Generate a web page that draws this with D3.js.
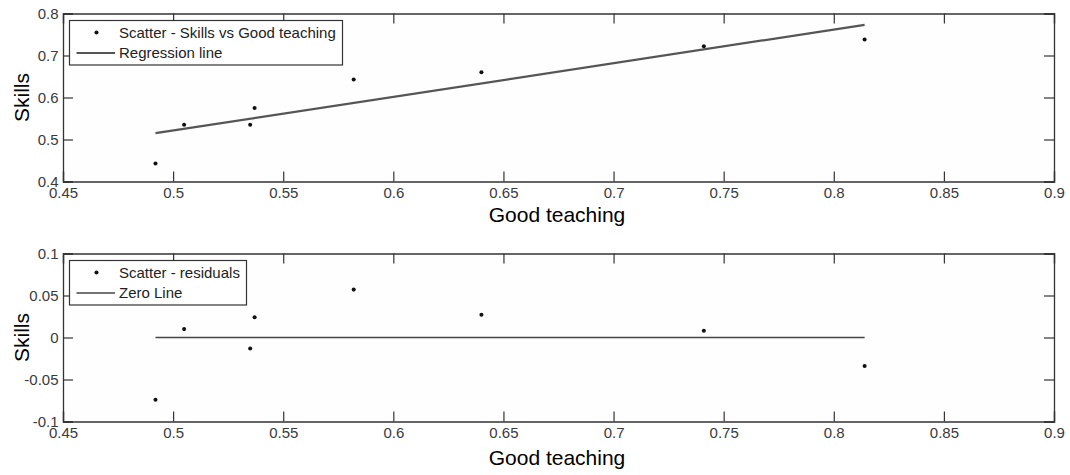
<!DOCTYPE html>
<html><head><meta charset="utf-8">
<script src="https://cdn.jsdelivr.net/npm/d3@7"></script>
<style>body{margin:0;background:#fff}svg{display:block;font-family:"Liberation Sans",Arial,sans-serif}</style>
</head><body><svg id="c" width="1070" height="475"></svg>
<script>
const goodTeaching = [0.492, 0.505, 0.535, 0.537, 0.582, 0.640, 0.741, 0.814];
const skills = [0.443, 0.535, 0.535, 0.575, 0.643, 0.660, 0.722, 0.738];
const residuals = [-0.074, 0.010, -0.013, 0.024, 0.057, 0.027, 0.008, -0.034];
const regLineX = [0.492, 0.814];
const regLineY = [0.515, 0.773];
const zeroLineX = [0.492, 0.814];
const zeroLineY = [0, 0];
const xTicks = [0.45, 0.5, 0.55, 0.6, 0.65, 0.7, 0.75, 0.8, 0.85, 0.9];
const yTicksTop = [0.4, 0.5, 0.6, 0.7, 0.8];
const yTicksBottom = [-0.1, -0.05, 0, 0.05, 0.1];
const xLabel = "Good teaching";
const yLabel = "Skills";
const legendTop = ["Scatter - Skills vs Good teaching", "Regression line"];
const legendBottom = ["Scatter - residuals", "Zero Line"];

const svg = d3.select("#c");
const L = 63, R = 1054;
function fmt(v){ return String(+v.toFixed(2)); }

function panel(top, bottom, yDom, yTicks, ys, lx, ly, legend, legW, lineW, lineCol, labOff){
  const x = d3.scaleLinear().domain([0.45, 0.9]).range([L, R]);
  const y = d3.scaleLinear().domain(yDom).range([bottom, top]);
  const g = svg.append("g");
  g.append("rect").attr("x", L).attr("y", top).attr("width", R-L).attr("height", bottom-top)
    .attr("fill", "#fefefe").attr("stroke", "none");
  const tk = 10;
  const axB = g.append("g").attr("transform", `translate(0,${bottom})`)
    .call(d3.axisBottom(x).tickValues(xTicks).tickSize(-tk).tickPadding(8.5).tickFormat(fmt));
  const axT = g.append("g").attr("transform", `translate(0,${top})`)
    .call(d3.axisTop(x).tickValues(xTicks).tickSize(-tk).tickFormat(""));
  const axL = g.append("g").attr("transform", `translate(${L},0)`)
    .call(d3.axisLeft(y).tickValues(yTicks).tickSize(-tk).tickPadding(4.5).tickFormat(fmt));
  const axR = g.append("g").attr("transform", `translate(${R},0)`)
    .call(d3.axisRight(y).tickValues(yTicks).tickSize(-tk).tickFormat(""));
  [axB, axT, axL, axR].forEach(a => {
    a.select(".domain").attr("stroke", "#333").attr("stroke-width", 1.3);
    a.selectAll(".tick line").attr("stroke", "#333").attr("stroke-width", 1.2);
    a.selectAll(".tick text").attr("fill", "#3a3a3a").style("font-size", "15px")
      .style("font-family", '"Liberation Sans",Arial,sans-serif');
  });
  axB.selectAll(".tick text").attr("dy", "0.55em");
  const line = d3.line().x(d => x(d[0])).y(d => y(d[1]));
  g.append("path").datum(d3.zip(lx, ly)).attr("d", line)
    .attr("fill", "none").attr("stroke", lineCol).attr("stroke-width", lineW);
  g.selectAll(".pt").data(d3.zip(goodTeaching, ys)).join("path")
    .attr("transform", d => `translate(${x(d[0])},${y(d[1])})`)
    .attr("d", d3.symbol(d3.symbolCircle, 13)).attr("fill", "#111");
  g.append("text").attr("x", 557).attr("y", bottom + labOff).attr("text-anchor", "middle")
    .style("font-size", "21px").attr("fill", "#000").text(xLabel);
  g.append("text").attr("transform", `translate(28.5,${(top+bottom)/2}) rotate(-90)`)
    .attr("text-anchor", "middle").style("font-size", "21px").attr("fill", "#000").text(yLabel);
  const lg = g.append("g").attr("transform", `translate(69.5,${top+7})`);
  lg.append("rect").attr("width", legW).attr("height", 44.5).attr("fill", "#fff")
    .attr("stroke", "#333").attr("stroke-width", 1.2);
  lg.append("path").attr("transform", "translate(27,12)")
    .attr("d", d3.symbol(d3.symbolCircle, 13)).attr("fill", "#111");
  lg.append("line").attr("x1", 7).attr("x2", 45.5).attr("y1", 32.5).attr("y2", 32.5)
    .attr("stroke", lineCol).attr("stroke-width", lineW);
  lg.append("text").attr("x", 49.5).attr("y", 17).style("font-size", "15px").attr("fill", "#222").text(legend[0]);
  lg.append("text").attr("x", 49.5).attr("y", 37.5).style("font-size", "15px").attr("fill", "#222").text(legend[1]);
}

panel(13.5, 181.5, [0.4, 0.8], yTicksTop, skills, regLineX, regLineY, legendTop, 273, 2.2, "#555", 40.5);
panel(253.5, 421.5, [-0.1, 0.1], yTicksBottom, residuals, zeroLineX, zeroLineY, legendBottom, 177, 1.6, "#444", 43.5);
</script></body></html>
